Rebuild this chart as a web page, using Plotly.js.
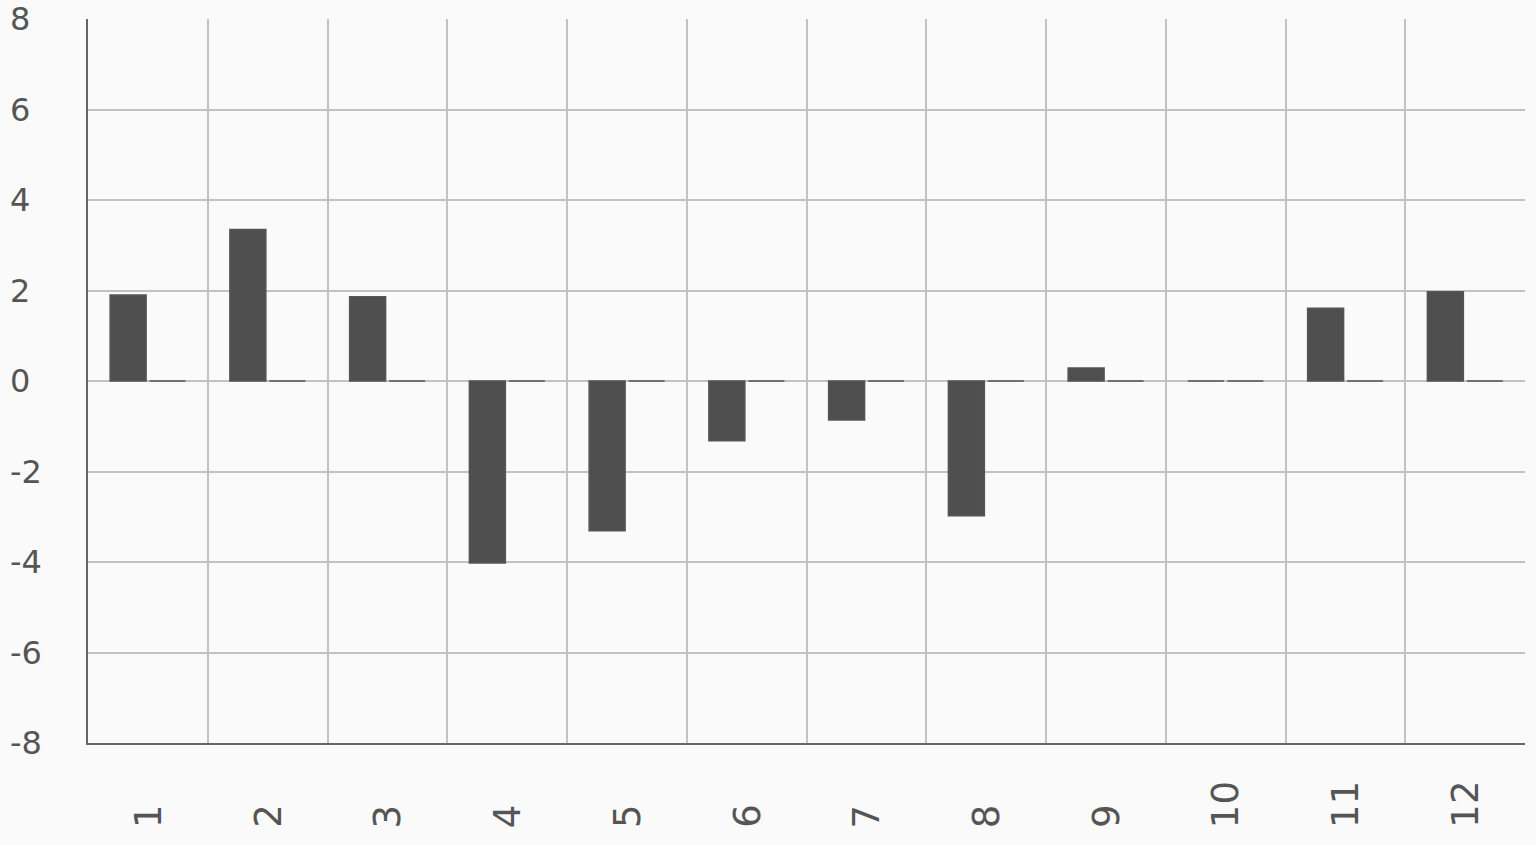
<!DOCTYPE html>
<html>
<head>
<meta charset="utf-8">
<script src="https://cdn.plot.ly/plotly-3.0.1.min.js"></script>
<style>html,body{margin:0;padding:0;background:#fafafa;}#chart{width:1536px;height:845px;}</style>
</head>
<body>
<div id="chart"></div>
<script>
const categories = ["1","2","3","4","5","6","7","8","9","10","11","12"];
const seriesA = [1.90, 3.35, 1.86, -4.02, -3.31, -1.32, -0.86, -2.98, 0.29, 0, 1.61, 1.97];
const seriesB = [0, 0, 0, 0, 0, 0, 0, 0, 0, 0, 0, 0];
const yTicks = [-8, -6, -4, -2, 0, 2, 4, 6, 8];

const W = 1536, H = 845;
const mL = 8, mR = 11, mT = 19, mB = 15;
const plotLeft = 88, plotBottom = 743;
const xDomStart = (plotLeft - mL) / (W - mL - mR);
const yDomStart = (H - mB - plotBottom) / (H - mT - mB);

const barStyle = {color: '#4f4f4f', line: {color: '#555555', width: 1.5}};
const traces = [
  {type: 'bar', x: categories, y: seriesA, marker: barStyle, hoverinfo: 'x+y', name: 'A'},
  {type: 'bar', x: categories, y: seriesB, marker: barStyle, hoverinfo: 'x+y', name: 'B'}
];

const labelColor = '#555555';
const fam = 'DejaVu Sans, sans-serif';
const annotations = [];
yTicks.forEach(v => annotations.push({
  xref: 'paper', x: 0, xanchor: 'left',
  yref: 'y', y: v, yanchor: 'middle',
  text: String(v), showarrow: false,
  font: {family: fam, size: 32, color: labelColor}
}));
categories.forEach((c, i) => annotations.push({
  xref: 'x', x: i, xanchor: 'center',
  yref: 'paper', y: 0, yanchor: 'bottom',
  text: c, textangle: -90, showarrow: false,
  font: {family: fam, size: 37, color: labelColor}
}));

const gridColor = '#c2c2c2';
const layout = {
  width: W, height: H,
  margin: {l: mL, r: mR, t: mT, b: mB, pad: 0},
  paper_bgcolor: '#fafafa', plot_bgcolor: '#fafafa',
  showlegend: false,
  barmode: 'group', bargap: 0.34, bargroupgap: 0.09,
  font: {family: fam, color: labelColor},
  xaxis: {
    type: 'category', domain: [xDomStart, 1], range: [-0.5, categories.length - 0.5],
    tickson: 'boundaries', showgrid: true, gridcolor: gridColor, gridwidth: 2,
    showline: true, linecolor: '#666666', linewidth: 2,
    ticks: '', showticklabels: false, zeroline: false
  },
  yaxis: {
    domain: [yDomStart, 1], range: [-8, 8],
    tickmode: 'array', tickvals: yTicks,
    showgrid: true, gridcolor: gridColor, gridwidth: 2,
    zeroline: true, zerolinecolor: gridColor, zerolinewidth: 2,
    showline: true, linecolor: '#666666', linewidth: 2,
    ticks: '', showticklabels: false
  },
  annotations: annotations
};

Plotly.newPlot('chart', traces, layout, {displayModeBar: false, staticPlot: true});
</script>
</body>
</html>
